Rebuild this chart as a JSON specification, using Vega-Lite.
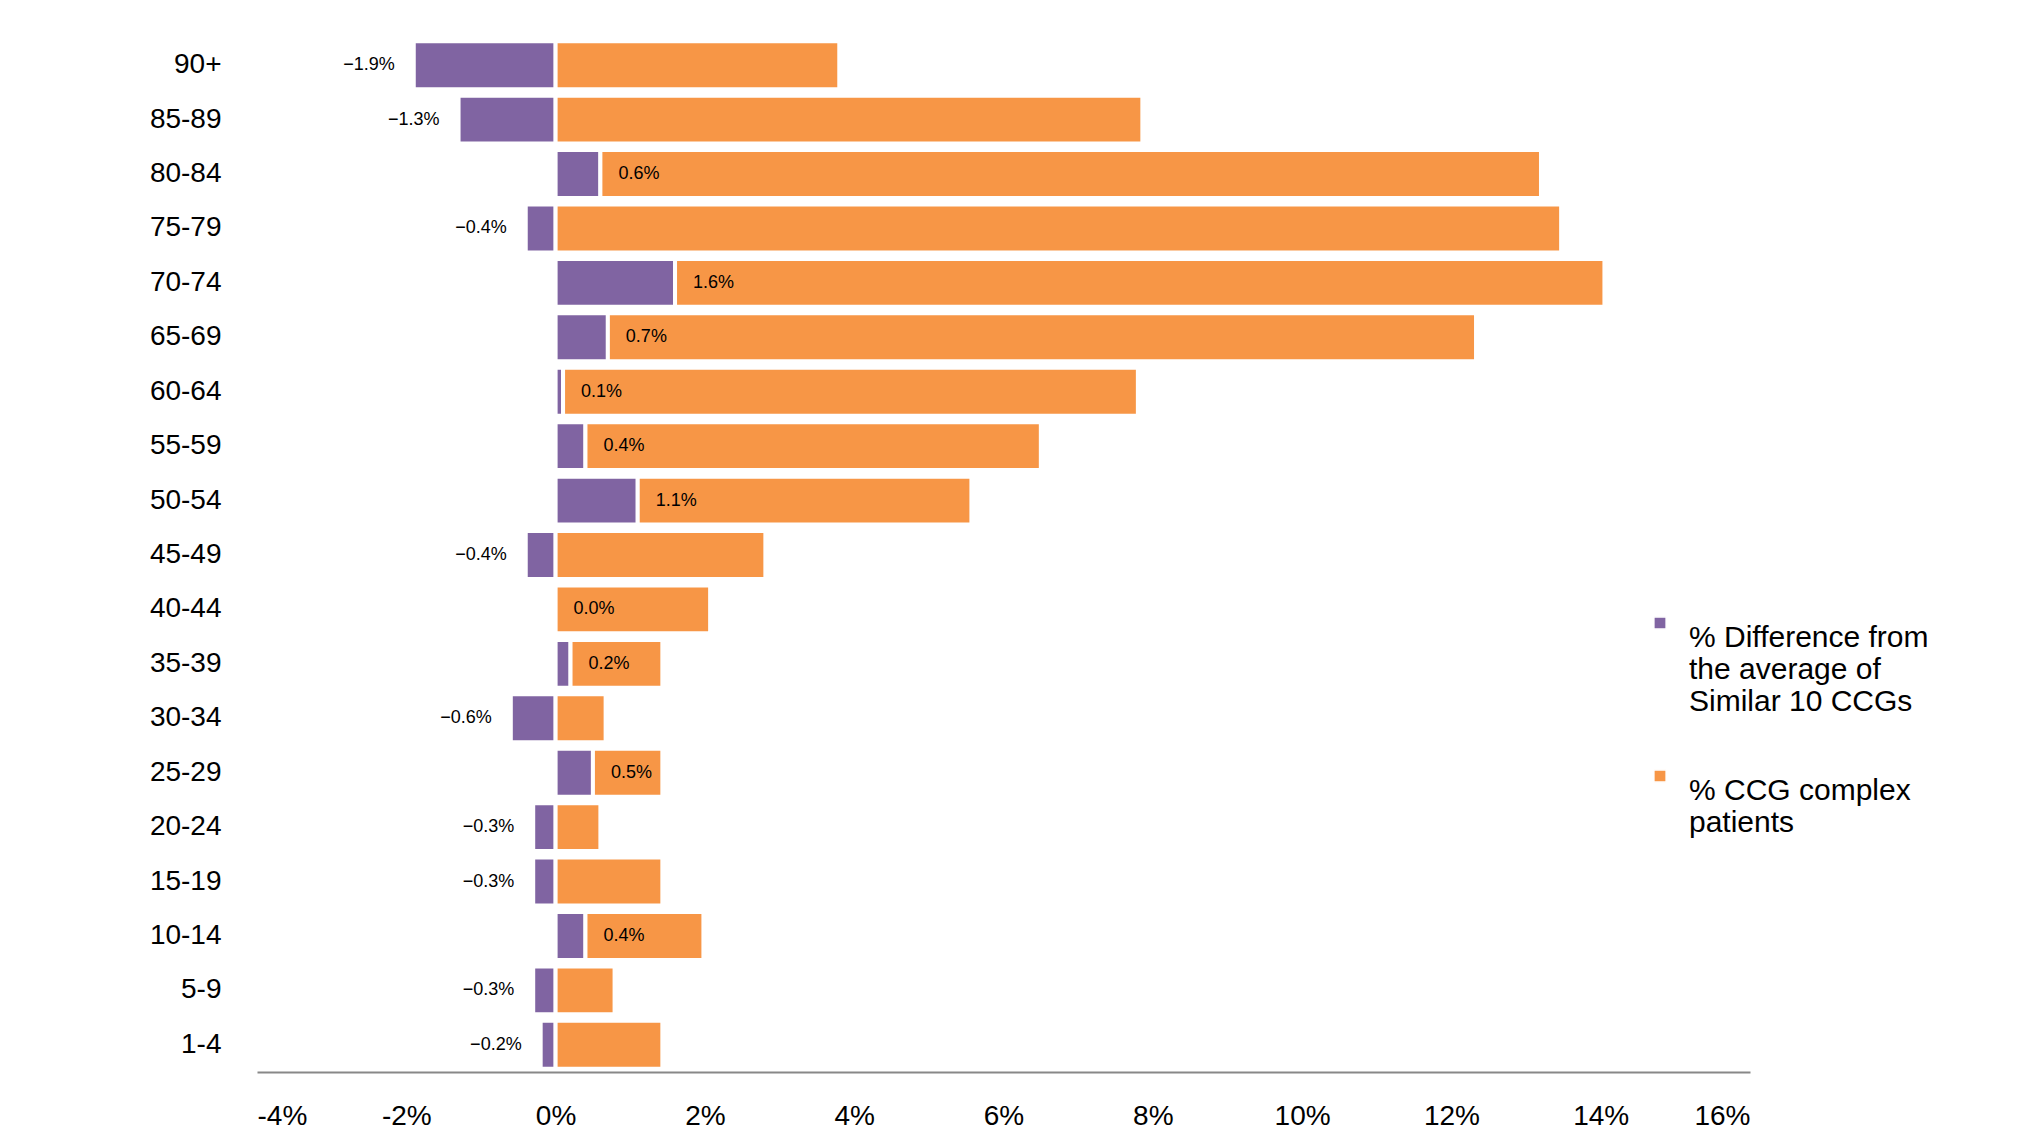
{
  "$schema": "https://vega.github.io/schema/vega-lite/v6.json",
  "width": 1493,
  "height": 1034,
  "autosize": {"type": "none"},
  "padding": {"left": 257, "top": 38, "right": 268, "bottom": 64},
  "background": "white",
  "config": {
    "view": {"stroke": null},
    "font": "Liberation Sans"
  },
  "data": {
    "values": [
      {"age": "90+", "series": "diff", "value": -1.9},
      {"age": "85-89", "series": "diff", "value": -1.3},
      {"age": "80-84", "series": "diff", "value": 0.6},
      {"age": "75-79", "series": "diff", "value": -0.4},
      {"age": "70-74", "series": "diff", "value": 1.6},
      {"age": "65-69", "series": "diff", "value": 0.7},
      {"age": "60-64", "series": "diff", "value": 0.1},
      {"age": "55-59", "series": "diff", "value": 0.4},
      {"age": "50-54", "series": "diff", "value": 1.1},
      {"age": "45-49", "series": "diff", "value": -0.4},
      {"age": "40-44", "series": "diff", "value": 0.0},
      {"age": "35-39", "series": "diff", "value": 0.2},
      {"age": "30-34", "series": "diff", "value": -0.6},
      {"age": "25-29", "series": "diff", "value": 0.5},
      {"age": "20-24", "series": "diff", "value": -0.3},
      {"age": "15-19", "series": "diff", "value": -0.3},
      {"age": "10-14", "series": "diff", "value": 0.4},
      {"age": "5-9", "series": "diff", "value": -0.3},
      {"age": "1-4", "series": "diff", "value": -0.2},
      {"age": "90+", "series": "ccg", "value": 3.8},
      {"age": "85-89", "series": "ccg", "value": 7.86},
      {"age": "80-84", "series": "ccg", "value": 12.6},
      {"age": "75-79", "series": "ccg", "value": 13.47},
      {"age": "70-74", "series": "ccg", "value": 12.45},
      {"age": "65-69", "series": "ccg", "value": 11.63},
      {"age": "60-64", "series": "ccg", "value": 7.7},
      {"age": "55-59", "series": "ccg", "value": 6.1},
      {"age": "50-54", "series": "ccg", "value": 4.47},
      {"age": "45-49", "series": "ccg", "value": 2.81},
      {"age": "40-44", "series": "ccg", "value": 2.07},
      {"age": "35-39", "series": "ccg", "value": 1.23},
      {"age": "30-34", "series": "ccg", "value": 0.67},
      {"age": "25-29", "series": "ccg", "value": 0.93},
      {"age": "20-24", "series": "ccg", "value": 0.6},
      {"age": "15-19", "series": "ccg", "value": 1.43},
      {"age": "10-14", "series": "ccg", "value": 1.58},
      {"age": "5-9", "series": "ccg", "value": 0.79},
      {"age": "1-4", "series": "ccg", "value": 1.43}
    ]
  },
  "encoding": {
    "y": {
      "field": "age",
      "type": "nominal",
      "sort": null,
      "title": null,
      "scale": {"paddingInner": 0.12, "paddingOuter": 0.06},
      "axis": {"domain": false, "ticks": false, "labelFontSize": 28, "labelColor": "#000", "labelPadding": 36}
    }
  },
  "layer": [
    {
      "mark": {"type": "bar", "stroke": "white", "strokeWidth": 4},
      "encoding": {
        "x": {
          "field": "value",
          "type": "quantitative",
          "stack": "zero",
          "title": null,
          "scale": {"domain": [-4, 16], "nice": false},
          "axis": {"values": [-4, -2, 0, 2, 4, 6, 8, 10, 12, 14, 16], "labelExpr": "datum.value + '%'", "grid": false, "ticks": false, "domainColor": "#888", "domainWidth": 2, "labelFontSize": 28, "labelColor": "#000", "labelPadding": 30}
        },
        "order": {"field": "series", "sort": "descending"},
        "color": {
          "field": "series",
          "type": "nominal",
          "scale": {"domain": ["diff", "ccg"], "range": ["#8064A2", "#F79646"]},
          "legend": {
            "title": null,
            "orient": "none",
            "legendX": 1388,
            "legendY": 570,
            "symbolType": "square",
            "symbolSize": 150,
            "labelFontSize": 30,
            "labelColor": "#000",
            "labelLimit": 0,
            "rowPadding": 44,
            "labelExpr": "datum.value == 'diff' ? ['% Difference from', 'the average of', 'Similar 10 CCGs'] : ['% CCG complex', 'patients']",
            "labelOffset": 14,
            "labelBaseline": "top",
            "symbolOffset": 0
          }
        }
      }
    },
    {
      "transform": [{"filter": "datum.series == 'diff' && datum.value >= 0"}, {"calculate": "format(datum.value, '.1f') + '%'", "as": "lab"}],
      "mark": {"type": "text", "align": "left", "dx": 18, "fontSize": 18, "color": "#000"},
      "encoding": {
        "x": {"field": "value", "type": "quantitative"},
        "text": {"field": "lab"}
      }
    },
    {
      "transform": [{"filter": "datum.series == 'diff' && datum.value < 0"}, {"calculate": "format(datum.value, '.1f') + '%'", "as": "lab"}],
      "mark": {"type": "text", "align": "right", "dx": -19, "fontSize": 18, "color": "#000"},
      "encoding": {
        "x": {"field": "value", "type": "quantitative"},
        "text": {"field": "lab"}
      }
    }
  ]
}
